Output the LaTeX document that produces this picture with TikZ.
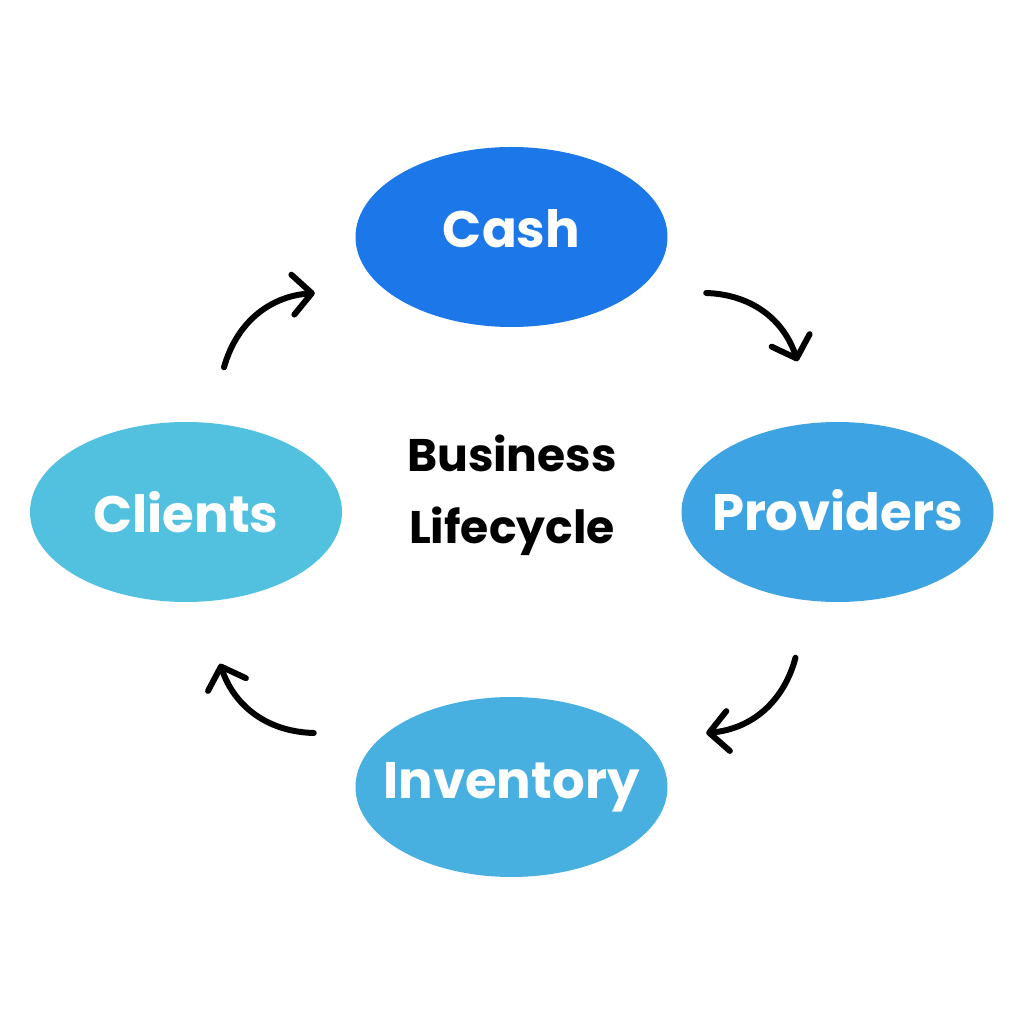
\documentclass[tikz,border=0pt]{standalone}
\usepackage{fontspec}
\setsansfont{Poppins}
\usepackage{xcolor}
\usepackage{tikz}
\usetikzlibrary{arrows.meta, positioning, shapes.geometric}

\definecolor{cashblue}{HTML}{1C77E8}
\definecolor{provblue}{HTML}{3DA3E3}
\definecolor{invblue}{HTML}{48B0E0}
\definecolor{clientblue}{HTML}{52C1E0}

\begin{document}
\begin{tikzpicture}[
        % Styles
        every node/.style = {font=\sffamily\bfseries},
        % Ellipses du cycle (le texte est posé en label pour garder la taille)
        stage/.style = {
            ellipse,
            draw=none,
            minimum width=3.12cm,
            minimum height=1.80cm,
            inner sep=0pt
        },
        stagetext/.style = {
            text=white,
            inner sep=0pt,
            font=\sffamily\bfseries\fontsize{14.6}{17}\selectfont
        },
        % Titre central
        title/.style = {
            align=center,
            text=black,
            font=\sffamily\bfseries\fontsize{13}{20.5}\selectfont
        },
        % Flèches dessinées à la main
        arrow/.style = {
            -{Straight Barb[length=1.9mm, width=4mm, round]},
            line width=1.7pt,
            line cap=round,
            draw=black
        }
    ]
        \useasboundingbox (0,0) rectangle (10.24,10.24);

        % 1. Placement des nœuds
        \node (cash)      [stage, fill=cashblue,   label={[stagetext, yshift=0.08cm]center:Cash}]      at (5.115,7.87) {};
        \node (providers) [stage, fill=provblue,   label={[stagetext, yshift=0.02cm]center:Providers}] at (8.375,5.12) {};
        \node (inventory) [stage, fill=invblue,    label={[stagetext]center:Inventory}]                at (5.115,2.37) {};
        \node (clients)   [stage, fill=clientblue, label={[stagetext]center:Clients}]                  at (1.86,5.12)  {};
        \node (center)    [title] at (5.12,5.29) {Business\\Lifecycle};

        % 2. Tracé des flèches
        \draw [arrow] ([shift={(0.38,0.54)}]clients.north) to[bend left=35] ([shift={(-0.40,-0.56)}]cash.west);
        \draw [arrow] ([shift={(0.38,-0.56)}]cash.east) to[bend left=35] ([shift={(-0.40,0.60)}]providers.north);
        \draw [arrow] ([shift={(-0.42,-0.55)}]providers.south) to[bend left=35] ([shift={(0.38,0.54)}]inventory.east);
        \draw [arrow] ([shift={(-0.41,0.54)}]inventory.west) to[bend left=35] ([shift={(0.34,-0.61)}]clients.south);

    \end{tikzpicture}
\end{document}
